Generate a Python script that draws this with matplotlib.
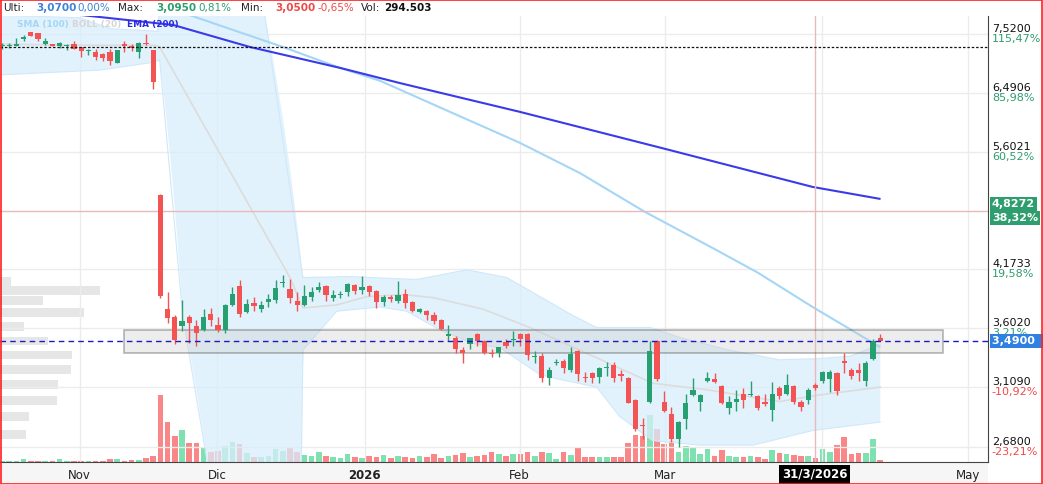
import matplotlib
matplotlib.use("Agg")
import matplotlib.pyplot as plt
from matplotlib.patches import Rectangle
from matplotlib.transforms import blended_transform_factory
import numpy as np

# ---------------- data ----------------
opens = [7.30,7.30,7.30,7.42,7.55,7.53,7.33,7.33,7.30,7.30,7.33,7.27,7.20,7.18,7.16,7.18,7.00,7.33,7.29,7.18,
         7.36,7.22,5.03,3.78,3.71,3.62,3.71,3.62,3.59,3.73,3.63,3.59,3.82,4.00,3.75,3.84,3.78,3.85,3.87,4.03,
         3.97,3.86,3.82,3.90,3.96,4.00,3.89,3.92,3.94,4.01,3.96,4.00,3.95,3.85,3.90,3.86,3.93,3.85,3.75,3.76,
         3.72,3.68,3.53,3.52,3.41,3.46,3.55,3.49,3.39,3.39,3.48,3.50,3.55,3.55,3.35,3.36,3.18,3.30,3.32,3.25,
         3.40,3.19,3.22,3.19,3.26,3.29,3.21,3.18,3.01,2.83,3.00,3.49,3.00,2.91,2.73,2.87,3.05,3.00,3.16,3.17,
         3.12,2.95,3.00,3.06,3.05,3.04,3.00,2.94,3.10,3.06,3.12,3.00,3.01,3.13,3.16,3.17,3.22,3.32,3.25,3.25,
         3.16,3.34,3.52]
highs = [7.35,7.35,7.45,7.50,7.56,7.54,7.45,7.34,7.37,7.33,7.38,7.28,7.25,7.25,7.17,7.24,7.23,7.38,7.33,7.37,
         7.52,7.23,5.04,3.94,3.72,3.87,3.72,3.68,3.78,3.79,3.71,3.83,3.99,4.06,3.88,3.90,3.86,3.93,4.07,4.12,
         4.08,3.94,4.01,3.99,4.04,4.01,3.96,3.95,4.03,4.02,4.11,4.01,3.96,3.92,3.92,4.05,3.97,3.86,3.79,3.77,
         3.75,3.69,3.63,3.53,3.44,3.52,3.56,3.50,3.42,3.44,3.51,3.58,3.56,3.56,3.40,3.39,3.27,3.34,3.34,3.44,
         3.41,3.23,3.23,3.27,3.31,3.31,3.25,3.19,3.02,2.88,3.49,3.50,3.08,2.96,2.86,3.06,3.18,3.06,3.23,3.22,
         3.13,3.04,3.09,3.10,3.16,3.05,3.06,3.15,3.12,3.21,3.13,3.01,3.10,3.14,3.24,3.25,3.23,3.39,3.26,3.30,
         3.32,3.51,3.55]
lows = [7.25,7.26,7.29,7.38,7.49,7.39,7.32,7.29,7.26,7.22,7.24,7.10,7.13,7.05,7.02,6.95,6.99,7.18,7.20,7.08,
        7.31,6.55,3.89,3.65,3.46,3.58,3.47,3.45,3.58,3.62,3.57,3.56,3.81,3.71,3.74,3.76,3.75,3.80,3.84,3.99,
        3.84,3.76,3.81,3.86,3.94,3.86,3.86,3.89,3.91,3.93,3.93,3.91,3.79,3.81,3.85,3.84,3.79,3.75,3.74,3.68,
        3.64,3.59,3.49,3.39,3.30,3.42,3.45,3.38,3.35,3.35,3.43,3.45,3.45,3.33,3.30,3.15,3.13,3.29,3.22,3.23,
        3.16,3.15,3.14,3.14,3.20,3.15,3.16,2.99,2.79,2.73,2.99,3.16,2.92,2.71,2.68,2.80,3.04,2.93,3.15,3.14,
        2.98,2.91,2.93,2.95,3.04,2.94,2.97,2.86,3.02,3.05,2.98,2.93,2.98,3.09,3.14,3.07,3.05,3.22,3.17,3.16,
        3.12,3.33,3.49]
closes = [7.31,7.31,7.34,7.47,7.49,7.42,7.38,7.30,7.36,7.31,7.25,7.21,7.22,7.10,7.08,7.03,7.22,7.29,7.26,7.36,
          7.33,6.67,3.91,3.70,3.50,3.67,3.65,3.56,3.71,3.68,3.59,3.82,3.93,3.73,3.83,3.81,3.82,3.88,3.98,4.04,
          3.89,3.82,3.91,3.94,3.99,3.92,3.92,3.93,4.02,3.95,3.99,3.94,3.85,3.90,3.88,3.92,3.84,3.76,3.78,3.72,
          3.67,3.60,3.55,3.42,3.39,3.52,3.49,3.39,3.38,3.44,3.45,3.51,3.51,3.37,3.36,3.18,3.25,3.31,3.26,3.38,
          3.21,3.18,3.18,3.26,3.27,3.18,3.20,2.99,2.80,2.82,3.40,3.17,2.93,2.73,2.85,2.99,3.09,3.05,3.18,3.15,
          2.99,3.00,3.02,3.01,3.06,2.95,2.98,3.06,3.04,3.13,3.00,2.96,3.09,3.10,3.23,3.23,3.08,3.30,3.20,3.22,
          3.30,3.49,3.49]
volumes = [1.5,1.5,1.5,3,1.5,1.5,1.5,1.5,3,1.5,1.5,1.5,1.5,1.5,1.5,3,3,1.5,2,2.5,4,6,
           67,40,26,32,19,19,15,10,11,16,20,18,9,5,5,6,13,11,15,10,7,6,10,
           6,5,4,8,5,4,6,5,7,4,6,5,4,6,5,8,4,6,7,9,5,6,7,10,8,6,8,
           8,10,6,10,9,3,10,7,15,5,5,5,5,5,5,19,27,26,47,33,18,21,10,16,14,8,13,6,12,6,5,5,6,5,3,
           12,9,8,7,6,6,4,13,10,17,25,8,9,9,23,2]

sma_idx = [26.1,39,46.9,52.5,62.2,71.9,80.3,89.3,98.8,105,112.6,117.4,121.9]
sma_val = [7.88,7.28,6.91,6.69,6.19,5.73,5.31,4.82,4.40,4.14,3.80,3.61,3.44]
ema_idx = [10.0,23.8,34.4,46.9,55.3,71.9,91.8,112.6,121.9]
ema_val = [7.90,7.69,7.28,6.91,6.65,6.19,5.65,5.13,4.98]
mid_idx = [0,10.8,21.25,21.9,40,41.8,46.5,50.7,55.7,59.9,66.8,73.3,80.3,90.4,97.9,108,113.6,122]
mid_val = [7.33,7.31,7.31,7.28,4.09,3.79,3.82,3.90,3.92,3.89,3.78,3.61,3.41,3.14,3.09,3.00,3.05,3.11]
up_idx = [0,10.8,15,21.7,22.2,36.1,36.5,41.8,48.3,57.6,64.6,70.1,79.3,82.6,90,94.2,101.1,108,113.6,117.8,122]
up_val = [7.88,7.83,7.62,7.57,9.5,9.5,7.88,4.09,4.10,4.07,4.17,4.09,3.72,3.61,3.61,3.52,3.41,3.33,3.34,3.36,3.46]
lo_idx = [0,13.6,21.25,21.9,25.1,28.5,29,41.5,41.8,46.5,52.5,56.2,60.8,65.4,69.2,74.7,77.5,82.6,85.8,90.4,96.9,104.3,112.6,122]
lo_val = [6.79,6.87,7.01,7.05,3.72,2.58,2.3,2.3,3.41,3.76,3.80,3.76,3.59,3.47,3.43,3.21,3.17,3.11,2.89,2.72,2.69,2.69,2.79,2.85]

prof_price = [4.05,3.96,3.86,3.75,3.62,3.49,3.37,3.25,3.13,3.01,2.89,2.76]
prof_vol = [11,100,43,84,24,48,72,71,58,57,29,26]

ref_price = 3.49
tick_prices = [7.52,6.4906,5.6021,4.1733,3.602,3.109,2.68]
month_pos = [10.8,29.9,50.4,71.9,92.1,134.2]
month_lab = ['Nov','Dic','2026','Feb','Mar','May']
apr_pos = 113.9
cross_idx = 112.9
cross_price = 4.8272
res_price = 7.28
zone = (16.9, 130.7, 3.39, 3.59)

# ---------------- figure ----------------
W, H = 1043, 484
fig = plt.figure(figsize=(W/100, H/100), dpi=100)
fig.patch.set_facecolor('white')
rect = [0, (484-462)/484, 988/1043, 446/484]
ylo, yhi = 2.579, 7.865
xlo, xhi = -0.28, 136.97

ax_b = fig.add_axes([0, 0, 988/1043, 22/484])
ax_b.set_facecolor('#f6f6f6'); ax_b.set_xticks([]); ax_b.set_yticks([])
for s in ax_b.spines.values():
    s.set_visible(False)

ax_p = fig.add_axes(rect)
ax_p.set_yscale('log'); ax_p.set_ylim(ylo, yhi); ax_p.set_xlim(0, 988)
ax_p.barh(prof_price, prof_vol, height=np.array(prof_price)*0.022, left=0,
          color='#e6e6e6', edgecolor='none')
ax_p.axis('off')

ax_v = fig.add_axes(rect)
ax_v.set_xlim(xlo, xhi); ax_v.set_ylim(0, 446)
ax_v.patch.set_visible(False)
ax_v.axis('off')

ax = fig.add_axes(rect)
ax.patch.set_visible(False)
ax.set_yscale('log'); ax.set_ylim(ylo, yhi); ax.set_xlim(xlo, xhi)

idx = np.arange(len(opens))
for i in idx:
    up = closes[i] >= opens[i]
    c = '#26a070' if up else '#f45353'
    vc = '#7fe0b0' if up else '#f98787'
    ax_v.bar(i, volumes[i], width=0.78, color=vc, edgecolor='none', zorder=2)
    ax.vlines(i, lows[i], highs[i], color=c, lw=1, zorder=5)
    b0, b1 = min(opens[i], closes[i]), max(opens[i], closes[i])
    if b1 - b0 < 0.006:
        b1 = b0 * 1.004
    ax.add_patch(Rectangle((i-0.36, b0), 0.72, b1-b0, facecolor=c, edgecolor='none', zorder=6))

# grid
for t in tick_prices:
    ax.axhline(t, color='#ececec', lw=1, zorder=0)
for m in month_pos + [apr_pos]:
    ax.axvline(m, color='#ececec', lw=1, zorder=0)

# bollinger
ui = np.linspace(0, 122, 600)
upv = np.interp(ui, up_idx, up_val); lov = np.interp(ui, lo_idx, lo_val)
ax.fill_between(ui, lov, upv, color='#d9eefc', alpha=0.75, lw=0, zorder=1)
ax.plot(up_idx, up_val, color='#cfe8fa', lw=0.8, zorder=1)
ax.plot(lo_idx, lo_val, color='#cfe8fa', lw=0.8, zorder=1)
ax.plot(mid_idx, mid_val, color='#dcdcdc', lw=1.2, zorder=2)
ax.plot(sma_idx, sma_val, color='#a4d6f6', lw=1.5, zorder=3)
ax.plot(ema_idx, ema_val, color='#3a3ae8', lw=1.5, zorder=3)

# zone box
ax.add_patch(Rectangle((zone[0], zone[2]), zone[1]-zone[0], zone[3]-zone[2],
                       facecolor='#cccccc', alpha=0.35, edgecolor='#333333', lw=1.2, zorder=4))
ax.axhline(ref_price, color='#1a1acc', lw=1, ls=(0, (4, 3)), zorder=7)
ax.axhline(res_price, color='#111111', lw=0.9, ls=(0, (2, 1.5)), zorder=7)
ax.axhline(cross_price, color='#e9b9b9', lw=1, zorder=3)
ax.axvline(cross_idx, color='#e9b9b9', lw=1, zorder=3)

for s in ['top', 'left']:
    ax.spines[s].set_visible(False)
ax.spines['right'].set_color('#444444'); ax.spines['bottom'].set_color('#444444')
ax.yaxis.set_major_locator(matplotlib.ticker.NullLocator())
ax.yaxis.set_minor_locator(matplotlib.ticker.NullLocator())
ax.tick_params(axis='x', length=0, labelsize=8.5, pad=5, colors='#222222')
ax.set_xticks(month_pos); ax.set_xticklabels(month_lab)
for lab in ax.get_xticklabels():
    if lab.get_text() == '2026':
        lab.set_fontweight('bold')

# right labels
tr = blended_transform_factory(ax.transAxes, ax.transData)
def fmt(v, n=4):
    return f"{v:.{n}f}".replace('.', ',')
for t in tick_prices:
    pct = (t/ref_price - 1)*100
    col = '#2e9e6e' if pct >= 0 else '#f04848'
    ax.annotate(fmt(t), (1.004, t), xycoords=tr, xytext=(0, 5), textcoords='offset pixels',
                fontsize=8, color='#111111', va='center', ha='left', annotation_clip=False, zorder=8)
    ax.annotate(fmt(pct, 2)+'%', (1.004, t), xycoords=tr, xytext=(0, -5), textcoords='offset pixels',
                fontsize=8, color=col, va='center', ha='left', annotation_clip=False, zorder=8)
bb = dict(boxstyle='square,pad=0.2', lw=0)
ax.annotate(fmt(cross_price), (1.004, cross_price), xycoords=tr, xytext=(0, 7), textcoords='offset pixels',
            fontsize=8, color='white', fontweight='bold', va='center', ha='left', annotation_clip=False,
            bbox=dict(bb, facecolor='#2e9e6e'), zorder=9)
ax.annotate(fmt((cross_price/ref_price-1)*100, 2)+'%', (1.004, cross_price), xycoords=tr, xytext=(0, -7),
            textcoords='offset pixels', fontsize=8, color='white', fontweight='bold', va='center', ha='left',
            annotation_clip=False, bbox=dict(bb, facecolor='#2e9e6e'), zorder=9)
ax.annotate(fmt(ref_price)+'  ', (1.004, ref_price), xycoords=tr, fontsize=8, color='white', fontweight='bold',
            va='center', ha='left', annotation_clip=False, bbox=dict(bb, facecolor='#2f80e0'), zorder=10)
trx = blended_transform_factory(ax.transData, ax.transAxes)
ax.text(cross_idx, -0.028, '31/3/2026', transform=trx, fontsize=8.5, color='white', fontweight='bold',
        ha='center', va='center', bbox=dict(boxstyle='square,pad=0.25', facecolor='black', lw=0), zorder=10)

# header
hdr = [(3, 'Ulti:', '#222222', 'normal'), (36, '3,0700', '#3b82d8', 'bold'), (77, '0,00%', '#3b82d8', 'normal'),
       (118, 'Max:', '#222222', 'normal'), (156, '3,0950', '#2e9e6e', 'bold'), (198, '0,81%', '#2e9e6e', 'normal'),
       (241, 'Min:', '#222222', 'normal'), (275, '3,0500', '#f04848', 'bold'), (318, '-0,65%', '#f04848', 'normal'),
       (361, 'Vol:', '#222222', 'normal'), (384, '294.503', '#111111', 'bold')]
for x, s, c, w in hdr:
    fig.text(x/W, 1-8/H, s, fontsize=7.5, color=c, fontweight=w, va='center', ha='left')
leg = [(17, 'SMA (100)', '#a4d6f6'), (72, 'BOLL (20)', '#d6d6d6'), (127, 'EMA (200)', '#2a2ae0')]
for x, s, c in leg:
    fig.text(x/W, 1-24/H, s, fontsize=6.4, color=c, fontweight='bold', va='center', ha='left')

fig.patches.append(Rectangle((0.0005, 0.001), 0.999, 0.998, transform=fig.transFigure,
                             facecolor='none', edgecolor='#ff2020', lw=1.2, zorder=10))
fig.savefig('out.png', dpi=100)
